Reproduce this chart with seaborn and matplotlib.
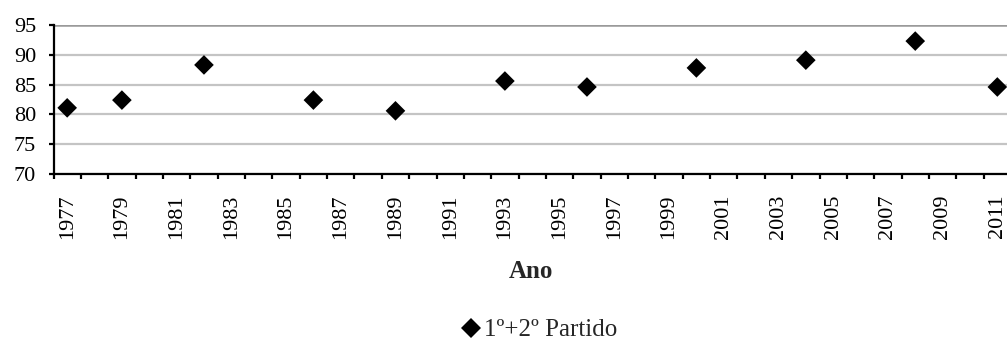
import matplotlib
matplotlib.use("Agg")
import matplotlib.pyplot as plt
import seaborn as sns
import pandas as pd
import numpy as np
from matplotlib.ticker import FixedLocator

years = [1977, 1979, 1982, 1986, 1989, 1993, 1996, 2000, 2004, 2008, 2011]
values = [81.1, 82.4, 88.3, 82.4, 80.6, 85.6, 84.6, 87.8, 89.1, 92.3, 84.6]
series_name = "1º+2º Partido"
tick_years = list(range(1977, 2012, 2))
y_ticks = [70, 75, 80, 85, 90, 95]
x_title = "Ano"

df = pd.DataFrame({"Ano": years, "Valor": values, "Série": series_name})

sns.set_theme(style="white")
plt.rcParams["font.family"] = ["Liberation Serif", "DejaVu Serif"]

W, H = 1007, 342
fig = plt.figure(figsize=(W / 100, H / 100), dpi=100)
left_px, right_px, top_px, bot_px = 53.5, 1011, 25, 174
ax = fig.add_axes([left_px / W, 1 - bot_px / H, (right_px - left_px) / W, (bot_px - top_px) / H])

sns.scatterplot(data=df, x="Ano", y="Valor", hue="Série", palette=["black"],
                marker="D", s=100, edgecolor="black", linewidth=0, ax=ax,
                legend=True, zorder=3, clip_on=False)

ax.set_xlim(1976.5, 2011.5)
ax.set_ylim(70, 95)

# grid
ax.yaxis.set_major_locator(FixedLocator(y_ticks))
ax.grid(axis="y", color="#c4c4c4", linewidth=1.6, zorder=0)
ax.grid(axis="x", visible=False)
ax.axhline(95, color="#9a9a9a", linewidth=1.8, zorder=1)

for s in ["top", "right"]:
    ax.spines[s].set_visible(False)
for s in ["left", "bottom"]:
    ax.spines[s].set_color("black")
    ax.spines[s].set_linewidth(1.6)
    ax.spines[s].set_zorder(4)

ax.xaxis.set_major_locator(FixedLocator(tick_years))
ax.xaxis.set_minor_locator(FixedLocator([1976.5 + k for k in range(36)]))
ax.set_xticklabels([str(y) for y in tick_years], rotation=90)
ax.tick_params(axis="x", which="major", length=0, pad=15, labelsize=16, colors="black")
ax.tick_params(axis="x", which="minor", length=3.5, width=1.6, direction="out",
               color="black", bottom=True)
ax.tick_params(axis="y", which="major", length=3.5, width=1.6, direction="out",
               pad=9, labelsize=16, colors="black", left=True)

ax.set_xlabel("")
ax.set_ylabel("")

fig.text(531 / W, 1 - 272 / H, x_title, ha="center", va="center",
         fontsize=18, fontweight="bold")

handles, labels = ax.get_legend_handles_labels()
ax.get_legend().remove()
fig.legend(handles, labels, loc="center", bbox_to_anchor=(538 / W, 1 - 330 / H),
           frameon=False, fontsize=18, handletextpad=0.0, handlelength=1.0,
           borderpad=0, markerscale=1.0)

fig.savefig("out.png", dpi=100)
